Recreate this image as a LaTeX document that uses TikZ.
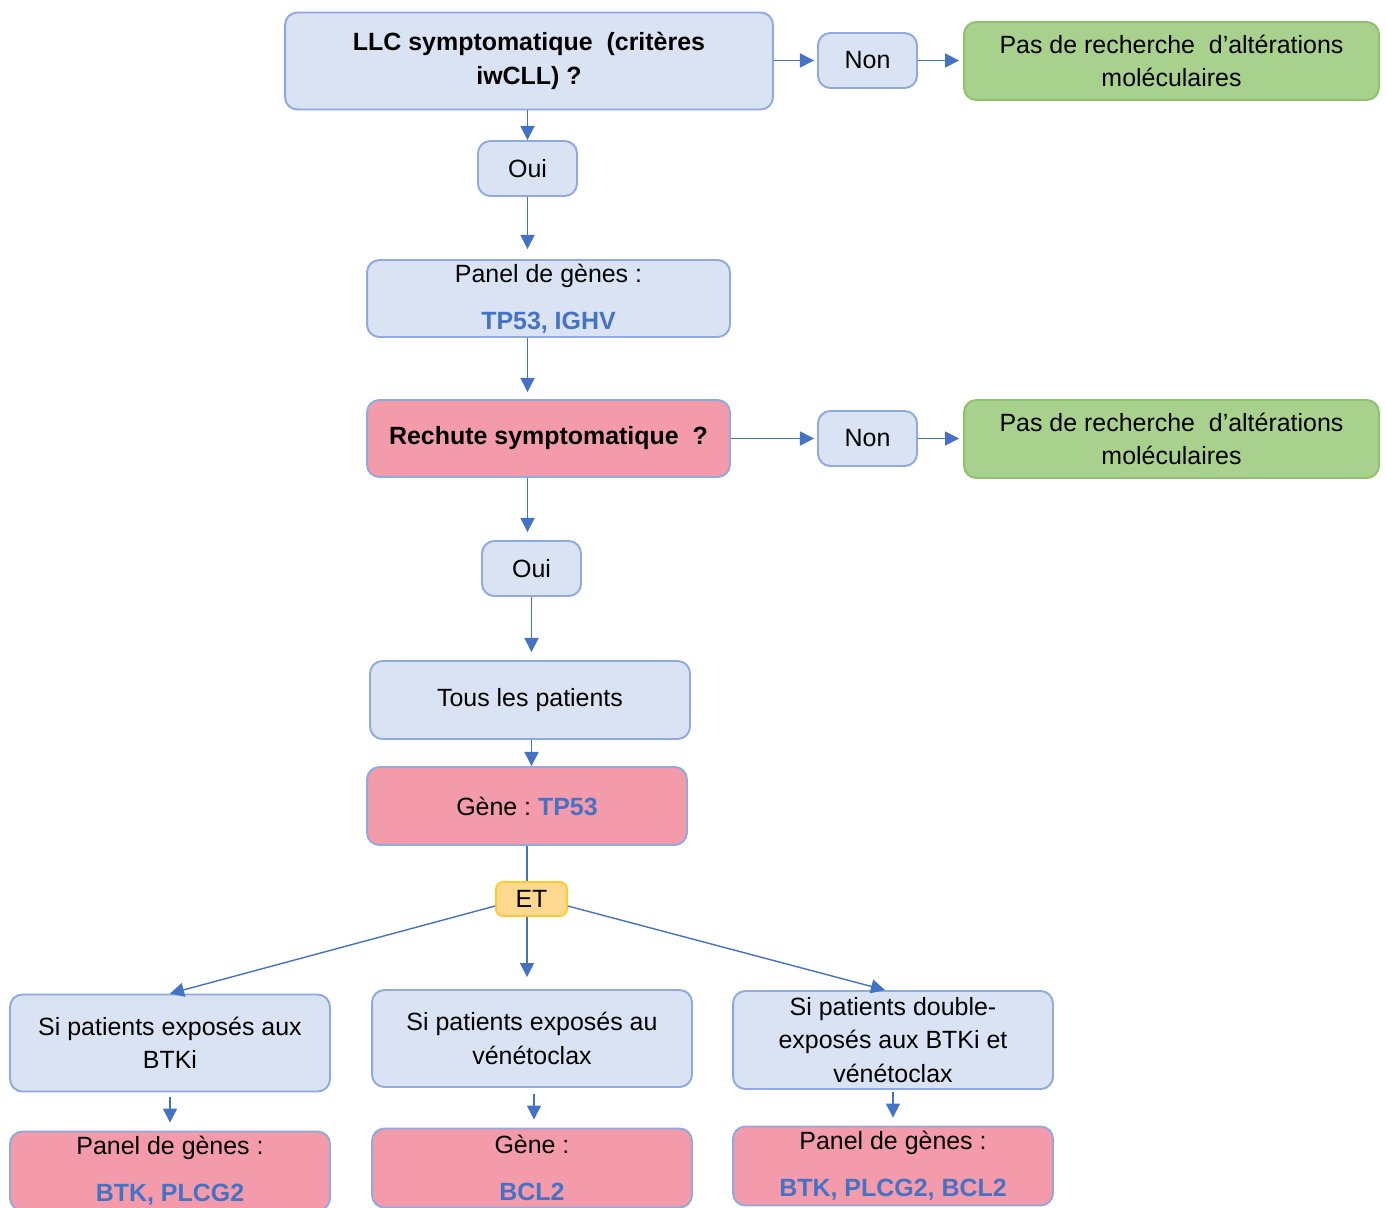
\documentclass[tikz,border=0pt]{standalone}
\usepackage{fontspec}
\setmainfont{Liberation Sans}
\usetikzlibrary{positioning, arrows.meta}
\definecolor{Pale}{HTML}{DAE3F3}
\definecolor{Edge}{HTML}{8FAADC}
\definecolor{Rose}{HTML}{F39BAA}
\definecolor{Leaf}{HTML}{A9D18E}
\definecolor{LeafEdge}{HTML}{8DC26A}
\definecolor{Gold}{HTML}{FFD98F}
\definecolor{GoldEdge}{HTML}{FFC933}
\definecolor{Flow}{HTML}{4472C4}
\newcommand{\genename}[1]{\textcolor{Flow}{\bfseries #1}}
\tikzset{
    palenode/.style={rectangle, rounded corners=7pt, draw=Edge, line width=1.1pt, fill=Pale, align=center, inner sep=2pt, font=\fontsize{14.2}{19}\selectfont},
    rosenode/.style={palenode, fill=Rose},
    leafnode/.style={palenode, draw=LeafEdge, fill=Leaf},
    goldnode/.style={palenode, draw=GoldEdge, fill=Gold, rounded corners=4pt},
    arrow/.style={-{Triangle[length=8pt, width=8pt]}, line width=0.8pt, color=Flow},
    link/.style={line width=0.8pt, color=Flow},
}

\begin{document}
\begin{tikzpicture}[x=0.02cm, y=-0.02cm]
        \useasboundingbox (0,0) rectangle (1386,1207);

        % first question
        \node[palenode, minimum width=9.76cm, minimum height=1.94cm, font=\fontsize{14.2}{19}\selectfont\bfseries] (llc) at (529,61) {LLC symptomatique\ \ (critères\\iwCLL) ?};
        \node[palenode, minimum width=1.98cm, minimum height=1.1cm] (non1) at (867.5,60.5) {Non};
        \node[leafnode, minimum width=8.3cm, minimum height=1.56cm] (pas1) at (1171.5,61) {Pas de recherche\ \ d’altérations\\moléculaires};
        \node[palenode, minimum width=1.98cm, minimum height=1.1cm] (oui1) at (527.5,168.5) {Oui};
        \node[palenode, minimum width=7.26cm, minimum height=1.54cm] (panel) at (548.5,298.5) {Panel de gènes :\\[8pt]\genename{TP53, IGHV}};

        % relapse
        \node[rosenode, minimum width=7.26cm, minimum height=1.54cm, font=\fontsize{14.2}{19}\selectfont\bfseries] (rechute) at (548.5,438.5) {Rechute symptomatique\ \ ?};
        \node[palenode, minimum width=1.98cm, minimum height=1.1cm] (non2) at (867.5,438.5) {Non};
        \node[leafnode, minimum width=8.3cm, minimum height=1.56cm] (pas2) at (1171.5,439) {Pas de recherche\ \ d’altérations\\moléculaires};
        \node[palenode, minimum width=1.98cm, minimum height=1.1cm] (oui2) at (531.5,568.5) {Oui};
        \node[palenode, minimum width=6.4cm, minimum height=1.56cm] (tous) at (530,700) {Tous les\ patients};
        \node[rosenode, minimum width=6.4cm, minimum height=1.56cm] (tp53) at (527,806) {Gène\ :\ \genename{TP53}};
        \node[goldnode, minimum width=1.42cm, minimum height=0.68cm] (et) at (531.5,899) {ET};

        % three branches
        \node[palenode, minimum width=6.4cm, minimum height=1.94cm] (btki) at (170,1043) {Si patients exposés aux\\BTKi};
        \node[palenode, minimum width=6.4cm, minimum height=1.94cm] (veneto) at (532,1038.5) {Si patients exposés au\\vénétoclax};
        \node[palenode, minimum width=6.4cm, minimum height=1.96cm] (double) at (893,1040) {Si patients double-\\exposés aux BTKi et\\vénétoclax};
        \node[rosenode, minimum width=6.4cm, minimum height=1.58cm] (panbtk) at (170,1171) {Panel de gènes :\\[8pt]\genename{BTK, PLCG2}};
        \node[rosenode, minimum width=6.4cm, minimum height=1.58cm] (genbcl) at (532,1168) {Gène :\\[8pt]\genename{BCL2}};
        \node[rosenode, minimum width=6.4cm, minimum height=1.58cm] (panall) at (893,1166) {Panel de gènes :\\[8pt]\genename{BTK, PLCG2, BCL2}};

        \draw[arrow, shorten >=0.06cm] (llc.east |- non1) -- (non1.west);
        \draw[arrow, shorten >=0.08cm] (non1.east) -- (pas1.west |- non1);
        \draw[arrow] (llc.south -| oui1) -- (oui1.north);
        \draw[arrow, shorten >=0.2cm] (oui1.south) -- (oui1 |- panel.north);
        \draw[arrow, shorten >=0.14cm] (oui1 |- panel.south) -- (oui1 |- rechute.north);
        \draw[arrow, shorten >=0.06cm] (rechute.east) -- (non2.west);
        \draw[arrow, shorten >=0.08cm] (non2.east) -- (pas2.west |- non2);
        \draw[arrow, shorten >=0.16cm] (oui1 |- rechute.south) -- (oui1 |- oui2.north);
        \draw[arrow, shorten >=0.16cm] (oui2.south) -- (oui2 |- tous.north);
        \draw[arrow] (oui2 |- tous.south) -- (oui2 |- tp53.north);
        \draw[link] (tp53.south) -- (tp53 |- et.north);
        \draw[arrow, shorten >=0.24cm] (tp53 |- et.south) -- (tp53 |- veneto.north);
        \draw[arrow] ([yshift=-4pt]et.west) -- (btki.north);
        \draw[arrow] ([yshift=-4pt]et.east) -- ([xshift=-0.16cm]double.north);
        \draw[arrow, shorten <=0.1cm, shorten >=0.16cm] (btki.south) -- (panbtk.north);
        \draw[arrow, shorten <=0.12cm, shorten >=0.16cm] ([xshift=0.04cm]veneto.south) -- ([xshift=0.04cm]genbcl.north);
        \draw[arrow, shorten <=0.04cm, shorten >=0.16cm] (double.south) -- (panall.north);
\end{tikzpicture}
\end{document}
